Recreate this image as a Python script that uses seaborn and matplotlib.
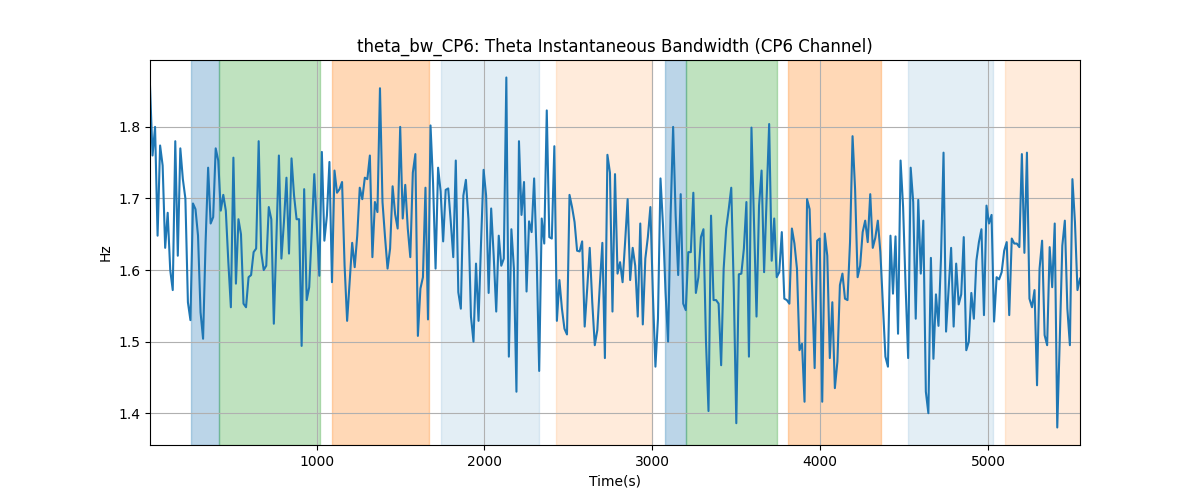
import numpy as np
import matplotlib
matplotlib.use("Agg")
import matplotlib.pyplot as plt
import seaborn as sns

title = "theta_bw_CP6: Theta Instantaneous Bandwidth (CP6 Channel)"
x_label = "Time(s)"
y_label = "Hz"
t_start = 8
t_end = 5548

hz = [
    1.857, 1.76, 1.80, 1.648, 1.774, 1.746, 1.631, 1.68, 1.60, 1.572, 1.78, 1.62, 1.77, 1.727, 1.70, 1.555,
    1.53, 1.693, 1.685, 1.648, 1.541, 1.504, 1.639, 1.743, 1.665, 1.674, 1.77, 1.753, 1.683, 1.705, 1.683,
    1.611, 1.548, 1.757, 1.581, 1.671, 1.65, 1.553, 1.548, 1.59, 1.593, 1.625, 1.63, 1.78, 1.625, 1.60,
    1.606, 1.688,
    1.671, 1.525, 1.644, 1.76, 1.616, 1.667, 1.729, 1.623, 1.756, 1.704, 1.671, 1.671, 1.494, 1.713, 1.558,
    1.576, 1.653, 1.734, 1.662, 1.592, 1.765, 1.641, 1.676, 1.751, 1.583, 1.739, 1.708, 1.713, 1.723, 1.606,
    1.529, 1.583, 1.638, 1.604, 1.648, 1.715, 1.699, 1.729, 1.727, 1.76, 1.618, 1.695, 1.681, 1.854, 1.695,
    1.646,
    1.602, 1.63, 1.717, 1.678, 1.658, 1.80, 1.672, 1.719, 1.658, 1.618, 1.736, 1.762, 1.508, 1.574, 1.59,
    1.715, 1.531, 1.802, 1.722, 1.602, 1.743, 1.71, 1.64, 1.712, 1.714, 1.668, 1.618, 1.753, 1.569, 1.546,
    1.704, 1.726, 1.671, 1.535, 1.50, 1.609, 1.529, 1.639, 1.74, 1.704, 1.568, 1.686, 1.62, 1.542, 1.648,
    1.606, 1.616,
    1.869, 1.479, 1.657, 1.602, 1.43, 1.78, 1.677, 1.723, 1.570, 1.668, 1.653, 1.728, 1.618, 1.459, 1.672,
    1.637, 1.823, 1.646, 1.644, 1.773, 1.529, 1.586, 1.546, 1.518, 1.51, 1.705, 1.688, 1.667, 1.627, 1.626,
    1.64, 1.521, 1.574, 1.631, 1.555, 1.495, 1.516, 1.579, 1.638, 1.477, 1.761, 1.736, 1.542, 1.734, 1.595,
    1.611, 1.583,
    1.639, 1.699, 1.586, 1.631, 1.606, 1.535, 1.665, 1.524, 1.616, 1.646, 1.688, 1.565, 1.465, 1.532, 1.728,
    1.662, 1.569, 1.50, 1.677, 1.80, 1.676, 1.593, 1.706, 1.553, 1.544, 1.625, 1.625, 1.708, 1.568, 1.59,
    1.646, 1.657, 1.50, 1.403, 1.676, 1.558, 1.558, 1.553, 1.467, 1.602, 1.658, 1.685, 1.715, 1.574, 1.386,
    1.594, 1.595, 1.63,
    1.695, 1.479, 1.799, 1.667, 1.535, 1.69, 1.739, 1.597, 1.699, 1.804, 1.613, 1.672, 1.59, 1.597, 1.653,
    1.56, 1.558, 1.553, 1.658, 1.637, 1.602, 1.488, 1.497, 1.416, 1.699, 1.685, 1.574, 1.463, 1.641, 1.644,
    1.416, 1.651, 1.62, 1.477, 1.555, 1.435, 1.472, 1.579, 1.595, 1.56, 1.558, 1.639, 1.787, 1.713, 1.59,
    1.606, 1.653, 1.669,
    1.639, 1.706, 1.631, 1.645, 1.669, 1.625, 1.551, 1.479, 1.465, 1.648, 1.567, 1.647, 1.511, 1.753, 1.688,
    1.576, 1.477, 1.743, 1.695, 1.532, 1.698, 1.595, 1.669, 1.43, 1.40, 1.617, 1.476, 1.566, 1.522, 1.617,
    1.764, 1.514, 1.572, 1.631, 1.521, 1.609, 1.552, 1.566, 1.646, 1.488, 1.50, 1.568, 1.532, 1.613, 1.639,
    1.657, 1.537,
    1.69, 1.665, 1.677, 1.528, 1.59, 1.587, 1.597, 1.627, 1.639, 1.537, 1.644, 1.637, 1.637, 1.632, 1.762,
    1.624, 1.764, 1.56, 1.548, 1.572, 1.439, 1.602, 1.641, 1.509, 1.495, 1.632, 1.576, 1.665, 1.38, 1.504,
    1.634, 1.669, 1.546, 1.495, 1.727, 1.667, 1.572, 1.588,
]
time_s = np.linspace(t_start, t_end, len(hz))

span_starts = [250, 417, 1091, 1743, 2427, 3077, 3198, 3806, 4522, 5104]
span_ends = [417, 1022, 1670, 2326, 3001, 3198, 3743, 4363, 5029, 5548]
span_colors = ["tab:blue", "tab:green", "tab:orange", "tab:blue", "tab:orange",
               "tab:blue", "tab:green", "tab:orange", "tab:blue", "tab:orange"]
span_alphas = [0.3, 0.3, 0.3, 0.12, 0.15, 0.3, 0.3, 0.3, 0.12, 0.15]

fig, ax = plt.subplots(figsize=(12, 5), dpi=100)
for s, e, c, a in zip(span_starts, span_ends, span_colors, span_alphas):
    ax.axvspan(s, e, color=c, alpha=a)

sns.lineplot(x=time_s, y=hz, ax=ax, color="#1f77b4", linewidth=1.5)
ax.set_xlim(time_s[0], time_s[-1])
ax.grid(True)
ax.set_title(title)
ax.set_xlabel(x_label)
ax.set_ylabel(y_label)
fig.savefig("out.png", dpi=100)
